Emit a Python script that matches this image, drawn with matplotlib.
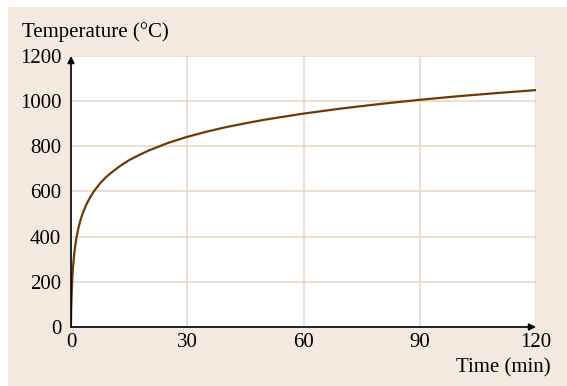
import matplotlib.pyplot as plt
from matplotlib.patches import Rectangle

# values
time_min = [0, 0.05, 0.1, 0.2, 0.3, 0.5, 0.75, 1, 1.5, 2, 2.5, 3, 4, 5, 6,
            7.5, 9, 10, 12.5, 15, 17.5, 20, 25, 30, 35, 40, 45, 50, 60, 70,
            80, 90, 100, 110, 120]
temp_c = [20, 75, 108, 163, 203, 261, 308, 349, 404, 445, 476, 502, 544,
          576, 603, 636, 663, 678, 711, 739, 761, 781, 815, 842, 865, 885,
          902, 918, 945, 968, 988, 1006, 1022, 1036, 1049]

x_ticks = [0, 30, 60, 90, 120]
y_ticks = [0, 200, 400, 600, 800, 1000, 1200]

plt.rcParams['font.family'] = ['Liberation Serif', 'DejaVu Serif']

beige = '#f3e9df'
grid_col = '#ead9c6'
line_col = '#6b3b05'

fig = plt.figure(figsize=(5.67, 3.86), dpi=100)
fig.patch.set_facecolor('white')
fig.patches.append(Rectangle((8 / 567, 0), 1, 1 - 7 / 386, transform=fig.transFigure,
                             facecolor=beige, edgecolor='none', zorder=-10))

ax = fig.add_axes([71 / 567, 1 - 327 / 386, 465 / 567, 271 / 386])
ax.set_facecolor('white')
ax.plot(time_min, temp_c, color=line_col, lw=1.6, zorder=3)

ax.set_xlim(0, 120)
ax.set_ylim(0, 1200)
ax.set_xticks(x_ticks)
ax.set_yticks(y_ticks)
ax.tick_params(length=0, labelsize=15)
ax.tick_params(axis='y', pad=7)
ax.tick_params(axis='x', pad=4)
ax.grid(True, color=grid_col, lw=1.2)
for s in ax.spines.values():
    s.set_visible(False)

# axes with arrows
ax.annotate('', xy=(0, 1.0), xytext=(0, 0), xycoords='axes fraction',
            arrowprops=dict(arrowstyle='-|>', color='black', lw=1.2,
                            mutation_scale=10, shrinkA=0, shrinkB=0), zorder=5)
ax.annotate('', xy=(1.0, 0), xytext=(0, 0), xycoords='axes fraction',
            arrowprops=dict(arrowstyle='-|>', color='black', lw=1.2,
                            mutation_scale=10, shrinkA=0, shrinkB=0), zorder=5)

fig.text(22 / 567, 1 - 32 / 386, 'Temperature (°C)', fontsize=15, va='center', ha='left')
fig.text(551 / 567, 1 - 368 / 386, 'Time (min)', fontsize=15, va='center', ha='right')

fig.savefig('out.png', dpi=100)
